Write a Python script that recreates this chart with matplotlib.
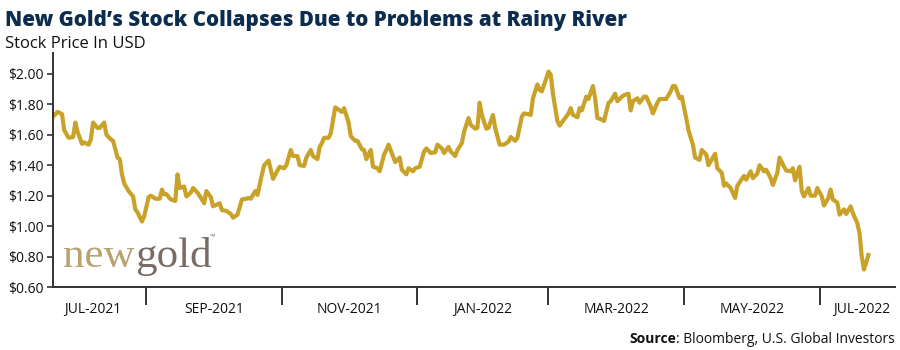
import pandas as pd
import matplotlib.pyplot as plt
import matplotlib.dates as mdates
from matplotlib.ticker import FuncFormatter, NullFormatter

# data: days since the first quote, closing price in USD
start = "2021-07-21"
day = [0, 2, 4, 5, 7, 9, 10, 11, 13, 14, 16, 17, 18, 20, 21, 23, 24, 26, 27, 29,
       30, 31, 32, 34, 36, 37, 38, 40, 41, 43, 44, 46, 48, 49, 50, 51, 53, 55, 56, 57,
       59, 60, 62, 63, 65, 67, 68, 69, 71,
       72, 75, 76, 78, 80, 81, 83, 85, 87, 88, 89, 91, 92, 94, 95, 97, 98, 99, 101, 102,
       104, 105, 107, 108, 110, 111, 113, 114, 116, 117, 119, 120, 121, 122, 124, 125, 127, 128, 130, 131,
       133, 134, 136, 137, 139, 140, 141, 143, 144,
       146, 147, 149, 150, 151, 153, 154, 156, 157, 159, 160, 162, 163, 165, 167, 168, 170, 172, 173, 175,
       176, 178, 179, 181, 182, 184, 185, 187, 188, 190, 191, 192, 193, 195, 196, 198, 199, 201, 203, 205,
       206, 208, 209, 211, 212, 214, 215,
       216, 218, 219, 220, 222, 223, 224, 225, 227, 228, 230, 232, 233, 234, 236, 237, 238, 240, 241, 243,
       244, 245, 247, 248, 250, 251, 253, 254, 256, 257, 259, 260, 261, 263, 264, 266, 267, 269, 270, 272,
       273, 275, 276, 278, 279, 280, 282, 283, 285, 286, 288, 289, 291,
       292, 294, 295, 297, 298, 299, 301, 302, 303, 305, 307, 308, 311, 312, 314, 315, 317, 318, 320, 321,
       323, 324, 326, 327, 329, 330, 332, 333, 334, 336, 337, 338, 340, 341, 343, 344, 346, 347, 349, 350,
       351, 353, 354, 356, 357, 359, 360, 362, 363, 364, 365, 366, 367]
price = [1.72, 1.75, 1.736, 1.63, 1.58, 1.585, 1.68, 1.62, 1.54, 1.55, 1.535, 1.57, 1.68, 1.645, 1.645, 1.68, 1.60, 1.57, 1.56, 1.45,
         1.44, 1.34, 1.28, 1.23, 1.195, 1.11, 1.09, 1.03, 1.065, 1.19, 1.20, 1.18, 1.18, 1.24, 1.21, 1.21, 1.175, 1.165, 1.34, 1.25,
         1.26, 1.195, 1.22, 1.25, 1.22, 1.175, 1.15, 1.23, 1.19,
         1.13, 1.15, 1.105, 1.10, 1.08, 1.055, 1.075, 1.175, 1.18, 1.185, 1.18, 1.23, 1.205, 1.34, 1.40, 1.43, 1.37, 1.31, 1.365, 1.39,
         1.38, 1.40, 1.50, 1.46, 1.46, 1.40, 1.395, 1.45, 1.50, 1.46, 1.44, 1.52, 1.545, 1.58, 1.58, 1.61, 1.78, 1.77, 1.75, 1.775,
         1.68, 1.59, 1.56, 1.56, 1.505, 1.50, 1.44, 1.50, 1.39,
         1.38, 1.36, 1.47, 1.50, 1.535, 1.46, 1.42, 1.45, 1.37, 1.34, 1.38, 1.36, 1.38, 1.39, 1.49, 1.51, 1.48, 1.485, 1.535, 1.51,
         1.48, 1.52, 1.49, 1.46, 1.50, 1.545, 1.62, 1.71, 1.665, 1.64, 1.645, 1.81, 1.73, 1.64, 1.645, 1.73, 1.645, 1.535, 1.535, 1.555,
         1.585, 1.56, 1.58, 1.72, 1.74, 1.735, 1.73,
         1.84, 1.93, 1.895, 1.885, 1.97, 2.015, 1.995, 1.87, 1.69, 1.66, 1.70, 1.74, 1.775, 1.73, 1.715, 1.775, 1.76, 1.85, 1.835, 1.92,
         1.84, 1.71, 1.70, 1.69, 1.81, 1.82, 1.87, 1.82, 1.85, 1.86, 1.87, 1.76, 1.82, 1.84, 1.81, 1.85, 1.85, 1.785, 1.74, 1.81,
         1.835, 1.835, 1.835, 1.885, 1.92, 1.92, 1.84, 1.85, 1.71, 1.63, 1.535, 1.45, 1.435,
         1.50, 1.47, 1.40, 1.45, 1.475, 1.38, 1.35, 1.265, 1.28, 1.25, 1.185, 1.265, 1.33, 1.305, 1.36, 1.315, 1.345, 1.40, 1.36, 1.37,
         1.315, 1.27, 1.35, 1.45, 1.39, 1.365, 1.36, 1.38, 1.30, 1.39, 1.23, 1.195, 1.25, 1.20, 1.20, 1.25, 1.195, 1.135, 1.185, 1.24,
         1.175, 1.155, 1.075, 1.11, 1.08, 1.13, 1.085, 1.02, 0.955, 0.80, 0.715, 0.76, 0.81]

period_edges = ["2021-09-01", "2021-11-01", "2022-01-01", "2022-03-01", "2022-05-01", "2022-07-01"]
period_labels = ["JUL-2021", "SEP-2021", "NOV-2021", "JAN-2022", "MAR-2022", "MAY-2022", "JUL-2022"]
yticks = [0.60, 0.80, 1.00, 1.20, 1.40, 1.60, 1.80, 2.00]

dates = pd.Timestamp(start) + pd.to_timedelta(day, unit="D")

plt.rcParams['font.family'] = ['Open Sans', 'DejaVu Sans']
gold = '#c9a22a'
dark = '#333333'

fig = plt.figure(figsize=(9, 3.5), dpi=100)
ax = fig.add_axes([0.059, 0.18, 0.9355, 0.669])
ax.plot(dates, price, color=gold, lw=3.0, solid_joinstyle='round')

x0 = mdates.date2num(pd.Timestamp(start))
x1 = mdates.date2num(pd.Timestamp("2022-08-04"))
ax.set_xlim(x0, x1)
ax.set_ylim(0.60, 2.138)

for s in ['top', 'right']:
    ax.spines[s].set_visible(False)
for s in ['left', 'bottom']:
    ax.spines[s].set_color(dark)
    ax.spines[s].set_linewidth(1.4)

ax.set_yticks(yticks)
ax.yaxis.set_major_formatter(FuncFormatter(lambda v, p: '${:.2f}'.format(v)))
ax.tick_params(axis='y', length=4, width=1.2, color=dark, labelsize=10, pad=3, labelcolor='#111111')

# period separators below the axis, labels centred between them
edges = [mdates.date2num(pd.Timestamp(e)) for e in period_edges]
ax.set_xticks(edges)
ax.xaxis.set_major_formatter(NullFormatter())
ax.tick_params(axis='x', which='major', length=13, width=1.4, color=dark, direction='out')
bounds = [x0] + edges + [x1]
mids = [(bounds[i] + bounds[i + 1]) / 2 for i in range(len(bounds) - 1)]
mids[0] -= 3
mids[-1] += 2
ax.set_xticks(mids, minor=True)
ax.set_xticklabels(period_labels, minor=True)
ax.tick_params(axis='x', which='minor', length=0, labelsize=10, pad=11, labelcolor='#111111')

fig.text(0.006, 0.925, "New Gold\u2019s Stock Collapses Due to Problems at Rainy River",
         fontsize=14.8, fontweight='heavy', color='#0c2d4e')
fig.text(0.006, 0.862, "Stock Price In USD", fontsize=12, color='#111111')

# logo
fig.canvas.draw()
r = fig.canvas.get_renderer()
t1 = ax.text(0.012, 0.085, "new", transform=ax.transAxes, fontsize=31,
             family='Liberation Serif', color='#b8a270')
bb = t1.get_window_extent(r).transformed(ax.transAxes.inverted())
t2 = ax.text(bb.x1, 0.085, "gold", transform=ax.transAxes, fontsize=31,
             family='Liberation Serif', color='#786c64')
bb2 = t2.get_window_extent(r).transformed(ax.transAxes.inverted())
ax.text(bb2.x1 - 0.002, 0.205, "\u2122", transform=ax.transAxes, fontsize=5, color='#786c64')

# source line
fig.canvas.draw()
s2 = fig.text(0.994, 0.02, ": Bloomberg, U.S. Global Investors", ha='right',
              fontsize=10, color='#111111')
bb3 = s2.get_window_extent(r).transformed(fig.transFigure.inverted())
fig.text(bb3.x0, 0.02, "Source", ha='right', fontsize=10, fontweight='bold', color='#111111')

fig.savefig("out.png", dpi=100)
